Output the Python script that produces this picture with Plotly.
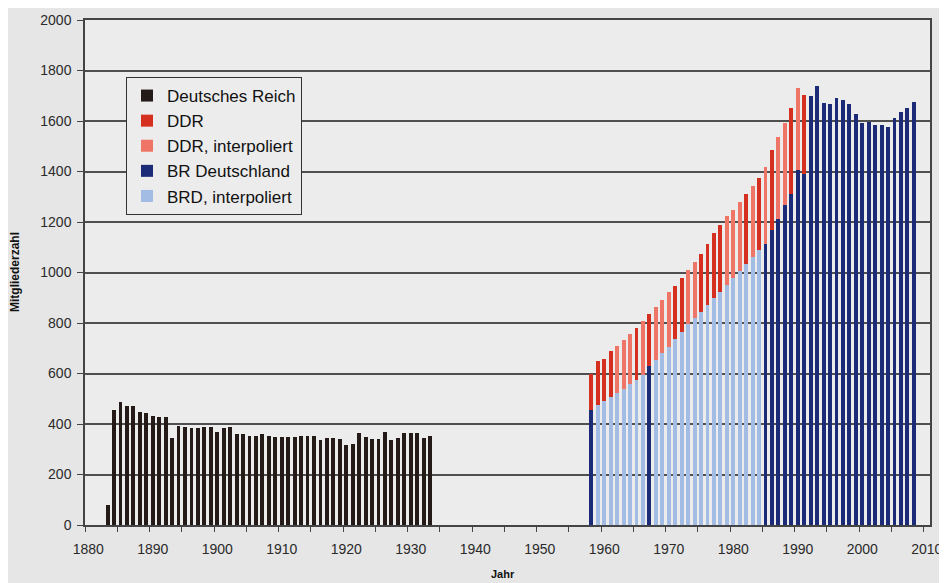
import plotly.graph_objects as go

# ---------------- data ----------------
reich_years = list(range(1883, 1934))
reich_values = [80, 457, 489, 471, 471, 449, 444, 433, 429, 429,
                343, 391, 389, 383, 383, 387, 387, 369, 383, 387,
                360, 360, 353, 353, 360, 353, 349, 347, 347, 349,
                353, 353, 353, 337, 344, 344, 340, 317, 320, 364,
                349, 340, 340, 369, 336, 344, 364, 364, 364, 344, 353]

post_years = list(range(1958, 2009))
# West Germany (from 1992 whole Germany) members
brd_values = [455, 474, 491, 506, 522, 540, 558, 574, 594, 628,
              655, 680, 705, 735, 765, 795, 820, 845, 872, 898,
              924, 950, 977, 1005, 1035, 1062, 1088, 1114, 1167, 1213,
              1266, 1312, 1407, 1389, 1698, 1739, 1673, 1667, 1693, 1685,
              1669, 1626, 1594, 1597, 1586, 1586, 1577, 1613, 1634, 1652, 1676]
# 'a' = reported, 'i' = interpolated
brd_status = ['a', 'i', 'i', 'i', 'i', 'i', 'i', 'i', 'i', 'a',
              'i', 'i', 'i', 'i', 'i', 'i', 'i', 'i', 'i', 'i',
              'i', 'i', 'i', 'i', 'i', 'i', 'i', 'a', 'a', 'a',
              'a', 'a', 'a', 'a', 'a', 'a', 'a', 'a', 'a', 'a',
              'a', 'a', 'a', 'a', 'a', 'a', 'a', 'a', 'a', 'a', 'a']

ddr_years = list(range(1958, 1992))
ddr_values = [145, 174, 166, 182, 188, 193, 198, 205, 212, 207,
              207, 211, 216, 213, 212, 214, 223, 228, 241, 257,
              265, 272, 271, 273, 275, 279, 286, 303, 319, 325,
              325, 338, 322, 313]
ddr_status = ['a', 'a', 'a', 'a', 'i', 'i', 'i', 'a', 'i', 'a',
              'i', 'i', 'i', 'a', 'a', 'i', 'i', 'a', 'a', 'a',
              'a', 'i', 'i', 'i', 'a', 'i', 'a', 'i', 'a', 'i',
              'i', 'a', 'i', 'a']

x_tick_years = list(range(1880, 2011, 10))

# ---------------- figure ----------------
FONT = "Arial, Liberation Sans, sans-serif"
C_REICH = "#241b19"
C_DDR = "#d5301f"
C_DDR_I = "#ef7667"
C_BRD = "#1c2b78"
C_BRD_I = "#a3bce4"

OFF = 8                      # page body margin
W, H = 947 - OFF, 583 - OFF  # figure size so that it fills the window
ML, MR, MT, MB = 85 - OFF, 17, 20 - OFF, 58
PW = W - ML - MR
PH = H - MT - MB


def px_x(page_x):
    return (page_x - OFF - ML) / PW


def px_y(page_y):
    return 1 - (page_y - OFF - MT) / PH


def pick(vals, status, key):
    return [v if s == key else None for v, s in zip(vals, status)]


fig = go.Figure()
fig.add_bar(x=reich_years, y=reich_values, name="Deutsches Reich",
            marker_color=C_REICH, legendrank=1)
fig.add_bar(x=post_years, y=pick(brd_values, brd_status, 'a'), name="BR Deutschland",
            marker_color=C_BRD, legendrank=4)
fig.add_bar(x=post_years, y=pick(brd_values, brd_status, 'i'), name="BRD, interpoliert",
            marker_color=C_BRD_I, legendrank=5)
fig.add_bar(x=ddr_years, y=pick(ddr_values, ddr_status, 'a'), name="DDR",
            marker_color=C_DDR, legendrank=2)
fig.add_bar(x=ddr_years, y=pick(ddr_values, ddr_status, 'i'), name="DDR, interpoliert",
            marker_color=C_DDR_I, legendrank=3)

for tr in fig.data:
    tr.marker.line.width = 0

fig.update_layout(
    width=W, height=H,
    barmode="stack", bargap=0.4,
    paper_bgcolor="#e6e6e6", plot_bgcolor="#ececec",
    margin=dict(l=ML, r=MR, t=MT, b=MB, autoexpand=False),
    font=dict(family=FONT, size=14, color="#2a2a2a"),
    showlegend=True,
    legend=dict(x=px_x(126), y=px_y(77), xanchor="left", yanchor="top",
                bgcolor="#ececec", bordercolor="#333333", borderwidth=1,
                font=dict(family=FONT, size=17, color="#111111"),
                traceorder="normal", itemsizing="constant"),
    xaxis=dict(range=[1879.5, 2010.5], tickmode="array", tickvals=x_tick_years,
               ticks="", showgrid=False, zeroline=False, automargin=False,
               ticklabeloverflow="allow",
               showline=True, linecolor="#444444", linewidth=1.5, mirror=True,
               ticklabelstandoff=10,
               minor=dict(ticks="outside", tick0=1879.5, dtick=5, ticklen=5,
                          tickcolor="#444444", tickwidth=1.2, showgrid=False)),
    yaxis=dict(range=[0, 2000], dtick=200, ticks="outside", ticklen=6,
               tickcolor="#444444", showgrid=True, gridcolor="#4f4f4f", gridwidth=1.5,
               zeroline=False, showline=True, linecolor="#444444", linewidth=1.5,
               mirror=True, ticklabelstandoff=3, automargin=False),
    annotations=[
        dict(text="<b>Jahr</b>", xref="paper", yref="paper",
             x=px_x(503), y=px_y(574), xanchor="center", yanchor="middle",
             showarrow=False, font=dict(size=11, color="#111111")),
        dict(text="<b>Mitgliederzahl</b>", xref="paper", yref="paper", textangle=-90,
             x=px_x(15), y=px_y(272), xanchor="center", yanchor="middle",
             showarrow=False, font=dict(size=12, color="#111111")),
    ],
)

fig.write_html("out.html")
